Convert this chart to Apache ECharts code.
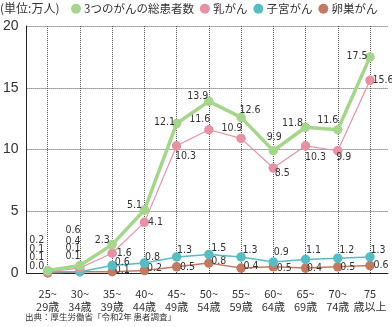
<!DOCTYPE html>
<html>
<head>
<meta charset="utf-8">
<script src="https://cdn.jsdelivr.net/npm/echarts@6/dist/echarts.min.js"></script>
<style>
  html, body { margin: 0; padding: 0; background: #fff; }
  #chart { width: 392px; height: 327px; }
</style>
</head>
<body>
<div id="chart"></div>
<script>
// Age groups (x axis) and patient counts in units of 10,000 people
const ageGroups = ['25~\n29歳', '30~\n34歳', '35~\n39歳', '40~\n44歳', '45~\n49歳', '50~\n54歳',
                   '55~\n59歳', '60~\n64歳', '65~\n69歳', '70~\n74歳', '75\n歳以上'];
const totalPatients = [0.2, 0.6, 2.3, 5.1, 12.1, 13.9, 12.6, 9.9, 11.8, 11.6, 17.5];
const breastCancer  = [0.1, 0.4, 1.6, 4.1, 10.3, 11.6, 10.9, 8.5, 10.3, 9.9, 15.6];
const uterineCancer = [0.1, 0.1, 0.6, 0.8, 1.3, 1.5, 1.3, 0.9, 1.1, 1.2, 1.3];
const ovarianCancer = [0.0, 0.1, 0.1, 0.2, 0.5, 0.8, 0.4, 0.5, 0.4, 0.5, 0.6];
const yTicks = [0, 5, 10, 15, 20];

// Value-label placement: label centre relative to its marker, one entry per point
const totalLabelOffset   = [[-11, -30], [-7, -35], [-10, -4], [-10, -5], [-12, -1], [-11, -5],
                            [9, -7], [1, -13], [-13, -4], [-10, -9], [-13, -1]];
const breastLabelOffset  = [[-11, -22], [-7, -27], [12, 0], [11, 0], [9, 10], [-9, -10],
                            [-9, -10], [9, 5], [10, 11], [6, 7], [13, 0]];
const uterineLabelOffset = [[-11, -14], [-7, -23], [10, -3], [8, -6], [8, -7], [10, -6],
                            [9, -7], [8, -10], [8, -9], [9, -8], [8, -7]];
const ovarianLabelOffset = [[-11, -7], [-7, -15], [10, -1], [10, -2], [11, 0], [10, -2],
                            [10, -2], [11, 1], [9, 0], [10, 0], [11, 0]];

const jpFont = "'Noto Sans CJK JP', sans-serif";
const numFont = "'Liberation Sans Narrow', 'DejaVu Sans Condensed', 'Roboto', sans-serif";

function withLabels(values, offsets) {
  return values.map((v, i) => ({ value: v, label: { offset: offsets[i] } }));
}

function lineSeries(name, values, offsets, color, width, z) {
  return {
    name: name,
    type: 'line',
    xAxisIndex: 1,
    yAxisIndex: 1,
    data: withLabels(values, offsets),
    symbol: 'circle',
    symbolSize: 9.5,
    z: z,
    itemStyle: { color: color },
    lineStyle: { color: color, width: width },
    label: {
      show: true,
      position: 'inside',
      align: 'center',
      verticalAlign: 'middle',
      formatter: p => Number(p.value).toFixed(1),
      fontFamily: numFont,
      fontSize: 10.5,
      color: '#333'
    },
    emphasis: { disabled: true },
    animation: false
  };
}

const chart = echarts.init(document.getElementById('chart'), null, { renderer: 'canvas' });

chart.setOption({
  backgroundColor: '#fff',
  textStyle: { fontFamily: jpFont },
  title: [
    { text: '(単位:万人)', left: 0, top: 2, padding: 0,
      textStyle: { fontFamily: jpFont, fontSize: 12, fontWeight: 'normal', color: '#333' } },
    { text: '出典：厚生労働省「令和2年 患者調査」', left: 25, top: 313, padding: 0,
      textStyle: { fontFamily: jpFont, fontSize: 8.5, fontWeight: 'normal', color: '#333' } }
  ],
  legend: {
    data: ['3つのがんの総患者数', '乳がん', '子宮がん', '卵巣がん'],
    left: 71, top: 3, padding: 0, width: 320,
    icon: 'circle', itemWidth: 10, itemHeight: 10, itemGap: 6,
    textStyle: { fontFamily: jpFont, fontSize: 11.5, color: '#333', padding: [0, 0, 0, -2] },
    selectedMode: false
  },
  grid: [
    { left: 25, top: 26, width: 363, height: 247 },
    { left: 47.7, top: 26, width: 322.3, height: 247 }
  ],
  xAxis: [
    { gridIndex: 0, type: 'value', min: 0, max: 1,
      axisLine: { show: true, lineStyle: { color: '#222', width: 1 } },
      axisTick: { show: false }, axisLabel: { show: false }, splitLine: { show: false } },
    { gridIndex: 1, type: 'category', data: ageGroups, boundaryGap: false,
      axisLine: { show: false }, axisTick: { show: false },
      axisLabel: { interval: 0, margin: 14, fontFamily: jpFont, fontSize: 11, lineHeight: 13, color: '#333' },
      splitLine: { show: true, lineStyle: { type: 'dotted', color: '#555', width: 1 } } }
  ],
  yAxis: [
    { gridIndex: 0, type: 'value', min: yTicks[0], max: yTicks[yTicks.length - 1],
      interval: yTicks[1] - yTicks[0],
      axisLine: { show: true, lineStyle: { color: '#222', width: 1 } },
      axisTick: { show: false },
      axisLabel: { margin: 8, fontFamily: "'Liberation Sans', sans-serif", fontSize: 14, color: '#333' },
      splitLine: { show: true, lineStyle: { type: 'dotted', color: '#555', width: 1 } } },
    { gridIndex: 1, type: 'value', min: yTicks[0], max: yTicks[yTicks.length - 1], show: false }
  ],
  series: [
    lineSeries('卵巣がん', ovarianCancer, ovarianLabelOffset, '#c27b62', 1.5, 2),
    lineSeries('子宮がん', uterineCancer, uterineLabelOffset, '#58bcc4', 1.5, 3),
    lineSeries('乳がん', breastCancer, breastLabelOffset, '#e592a4', 1.2, 4),
    lineSeries('3つのがんの総患者数', totalPatients, totalLabelOffset, '#a6d58d', 3.5, 5)
  ]
});
</script>
</body>
</html>
